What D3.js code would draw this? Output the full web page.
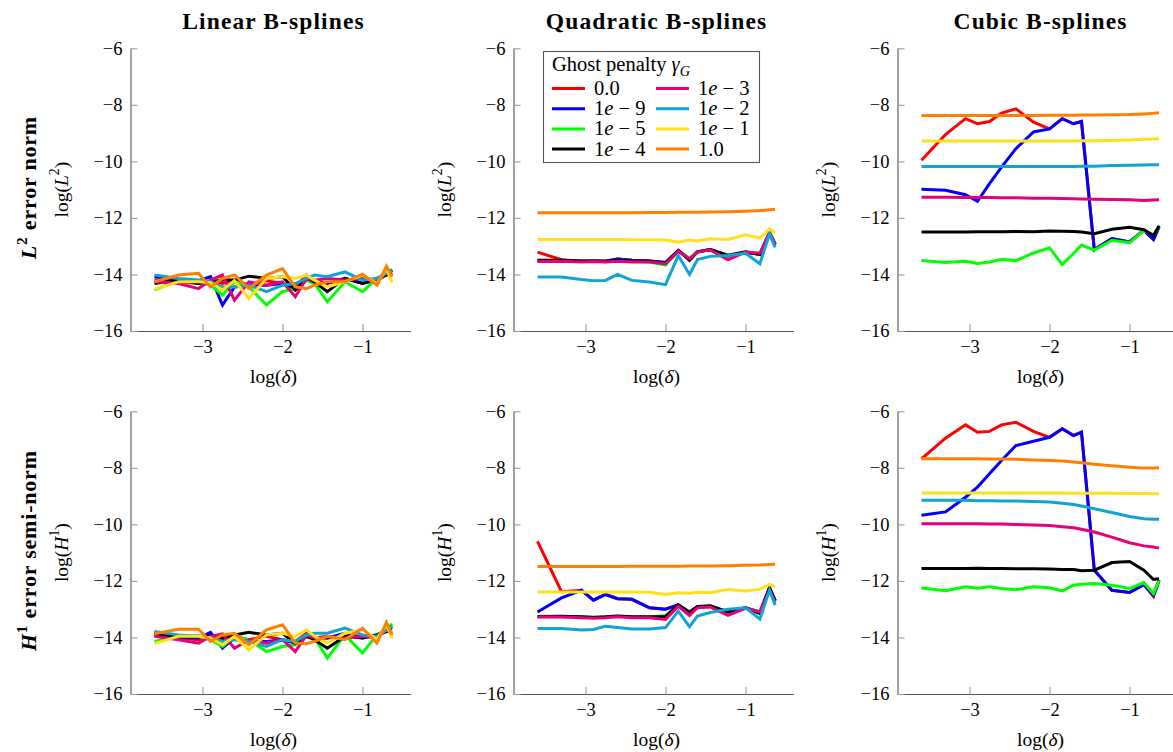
<!DOCTYPE html>
<html><head><meta charset="utf-8">
<script src="https://cdn.jsdelivr.net/npm/d3@7"></script>
<style>body{margin:0;background:#fff} svg text{font-family:"Liberation Serif","Times New Roman",serif;fill:#000}</style>
</head><body><svg id="c" width="1173" height="752"></svg>
<script>
// ---------- data ----------
const xValues = [-3.6,-3.3,-3.05,-2.9,-2.75,-2.6,-2.42,-2.2,-2.0,-1.84,-1.7,-1.6,-1.44,-1.22,-1.0,-0.82,-0.7,-0.63];
const seriesLabels = ["0.0","1e-9","1e-5","1e-4","1e-3","1e-2","1e-1","1.0"];
const seriesColors = ["#ff0000","#0000ff","#00ff00","#000000","#e5007d","#0fa3d6","#ffe11a","#ff8000"];
const xTicks = [-3,-2,-1];
const yTicks = [-16,-14,-12,-10,-8,-6];
const columnTitles = ["Linear B-splines","Quadratic B-splines","Cubic B-splines"];

// rows: 0.0, 1e-9, 1e-5, 1e-4, 1e-3, 1e-2, 1e-1, 1.0
const linearL2 = [
 [-14.20,-14.26,-14.32,-14.22,-14.32,-14.20,-14.38,-14.22,-14.32,-14.44,-14.02,-14.26,-14.29,-14.20,-14.14,-14.20,-14.02,-13.96],
 [-14.08,-14.20,-14.22,-14.08,-15.08,-14.44,-14.38,-14.38,-14.32,-14.55,-14.20,-14.26,-14.32,-14.14,-14.32,-14.20,-13.96,-13.91],
 [-14.55,-14.20,-14.26,-14.38,-14.73,-14.26,-14.44,-15.08,-14.61,-14.50,-14.20,-14.32,-14.97,-14.26,-14.61,-14.14,-13.96,-13.82],
 [-14.32,-14.20,-14.32,-14.26,-14.20,-14.20,-14.06,-14.14,-14.08,-14.55,-14.14,-14.26,-14.61,-14.14,-14.32,-14.14,-14.02,-13.85],
 [-14.26,-14.32,-14.50,-14.20,-14.02,-14.91,-14.26,-14.38,-14.26,-14.79,-14.14,-14.20,-14.14,-14.20,-14.14,-14.26,-13.91,-14.02],
 [-14.02,-14.14,-14.20,-14.26,-14.44,-14.44,-14.38,-14.61,-14.38,-14.32,-14.14,-14.02,-14.08,-13.91,-14.20,-14.14,-13.96,-13.85],
 [-14.53,-14.26,-14.26,-14.29,-14.55,-14.22,-14.85,-14.14,-14.08,-14.14,-14.02,-14.20,-14.44,-14.26,-14.02,-14.32,-13.79,-14.29],
 [-14.26,-14.02,-13.96,-14.44,-14.14,-14.02,-14.50,-14.02,-13.79,-14.44,-14.50,-14.38,-14.26,-14.26,-13.99,-14.38,-13.71,-14.08]
];
const quadraticL2 = [
 [-13.21,-13.48,-13.53,-13.52,-13.53,-13.45,-13.50,-13.52,-13.58,-13.15,-13.45,-13.20,-13.12,-13.35,-13.22,-13.28,-12.55,-12.95],
 [-13.53,-13.52,-13.53,-13.52,-13.53,-13.45,-13.50,-13.52,-13.58,-13.15,-13.45,-13.20,-13.12,-13.35,-13.22,-13.28,-12.55,-12.95],
 [-13.52,-13.52,-13.53,-13.53,-13.55,-13.52,-13.54,-13.56,-13.67,-13.18,-13.42,-13.20,-13.13,-13.35,-13.22,-13.25,-12.50,-12.90],
 [-13.50,-13.50,-13.52,-13.52,-13.53,-13.50,-13.52,-13.53,-13.60,-13.15,-13.50,-13.20,-13.12,-13.32,-13.20,-13.30,-12.55,-12.95],
 [-13.54,-13.53,-13.56,-13.54,-13.56,-13.53,-13.56,-13.56,-13.62,-13.18,-13.45,-13.21,-13.13,-13.48,-13.21,-13.25,-12.51,-12.92],
 [-14.09,-14.09,-14.18,-14.22,-14.21,-14.00,-14.21,-14.27,-14.36,-13.33,-14.00,-13.47,-13.36,-13.33,-13.25,-13.62,-12.56,-13.04],
 [-12.76,-12.76,-12.76,-12.76,-12.76,-12.76,-12.77,-12.77,-12.78,-12.86,-12.78,-12.82,-12.74,-12.76,-12.60,-12.71,-12.39,-12.53],
 [-11.82,-11.82,-11.82,-11.82,-11.82,-11.82,-11.82,-11.81,-11.81,-11.80,-11.80,-11.80,-11.79,-11.78,-11.76,-11.74,-11.71,-11.70]
];
const cubicL2 = [
 [-9.96,-9.05,-8.49,-8.67,-8.59,-8.29,-8.14,-8.61,-8.85,-8.49,-8.67,-8.59,-13.12,-12.73,-12.85,-12.44,-12.76,-12.32],
 [-10.99,-11.02,-11.18,-11.41,-10.79,-10.20,-9.55,-8.96,-8.85,-8.49,-8.67,-8.59,-13.12,-12.73,-12.85,-12.44,-12.76,-12.32],
 [-13.51,-13.58,-13.53,-13.61,-13.56,-13.47,-13.51,-13.24,-13.06,-13.65,-13.26,-12.96,-13.14,-12.79,-12.88,-12.44,-12.61,-12.32],
 [-12.50,-12.50,-12.50,-12.49,-12.49,-12.49,-12.48,-12.49,-12.46,-12.47,-12.48,-12.50,-12.56,-12.40,-12.33,-12.42,-12.62,-12.28],
 [-11.27,-11.27,-11.28,-11.28,-11.28,-11.29,-11.29,-11.30,-11.30,-11.31,-11.32,-11.33,-11.34,-11.35,-11.36,-11.38,-11.37,-11.36],
 [-10.18,-10.18,-10.18,-10.18,-10.18,-10.18,-10.18,-10.18,-10.18,-10.18,-10.18,-10.17,-10.17,-10.15,-10.14,-10.13,-10.12,-10.12],
 [-9.28,-9.28,-9.28,-9.28,-9.28,-9.28,-9.28,-9.28,-9.28,-9.28,-9.28,-9.27,-9.27,-9.26,-9.24,-9.22,-9.21,-9.20],
 [-8.38,-8.38,-8.38,-8.38,-8.38,-8.38,-8.38,-8.38,-8.37,-8.37,-8.37,-8.36,-8.36,-8.35,-8.34,-8.32,-8.30,-8.28]
];
const linearH1 = [
 [-13.94,-14.02,-14.08,-13.96,-14.08,-13.96,-14.08,-13.96,-14.08,-14.14,-13.85,-14.02,-14.02,-13.96,-13.96,-13.91,-13.79,-13.82],
 [-13.82,-13.99,-14.02,-13.82,-14.38,-14.02,-14.14,-14.14,-14.08,-14.20,-13.96,-14.02,-14.02,-13.85,-14.02,-13.91,-13.73,-13.67],
 [-14.14,-13.96,-13.96,-14.08,-14.32,-13.96,-14.08,-14.50,-14.32,-14.26,-13.91,-14.02,-14.73,-13.91,-14.55,-13.91,-13.73,-13.52],
 [-13.91,-13.96,-13.96,-13.96,-14.02,-13.91,-13.82,-13.91,-13.85,-14.22,-13.96,-14.08,-14.38,-13.96,-14.02,-13.91,-13.79,-13.61],
 [-13.96,-14.08,-14.20,-13.96,-13.87,-14.38,-14.08,-14.20,-14.08,-14.50,-13.91,-14.02,-13.96,-14.02,-13.96,-14.02,-13.73,-13.85],
 [-13.79,-13.91,-13.96,-14.02,-14.14,-14.08,-14.14,-14.32,-14.08,-14.14,-13.91,-13.85,-13.85,-13.67,-13.91,-13.96,-13.73,-13.61],
 [-14.22,-13.96,-13.96,-14.02,-14.26,-13.96,-14.44,-13.91,-13.85,-13.96,-13.73,-13.96,-14.20,-13.85,-13.73,-14.06,-13.55,-14.02],
 [-13.87,-13.71,-13.71,-14.14,-13.91,-13.85,-14.26,-13.73,-13.55,-14.20,-14.22,-14.14,-13.96,-14.08,-13.67,-14.20,-13.47,-13.91]
];
const quadraticH1 = [
 [-10.60,-12.38,-12.33,-12.68,-12.48,-12.63,-12.65,-12.95,-13.00,-12.85,-13.12,-12.92,-12.90,-13.10,-12.95,-13.10,-12.25,-12.70],
 [-13.10,-12.60,-12.33,-12.68,-12.48,-12.63,-12.65,-12.95,-13.00,-12.85,-13.12,-12.92,-12.90,-13.10,-12.95,-13.10,-12.25,-12.70],
 [-13.27,-13.26,-13.27,-13.28,-13.27,-13.25,-13.27,-13.28,-13.22,-12.87,-13.15,-12.92,-12.90,-13.12,-12.95,-13.10,-12.30,-12.72],
 [-13.26,-13.25,-13.27,-13.29,-13.27,-13.24,-13.27,-13.27,-13.26,-12.85,-13.10,-12.90,-12.88,-13.10,-12.95,-13.15,-12.25,-12.70],
 [-13.28,-13.28,-13.30,-13.32,-13.30,-13.27,-13.30,-13.30,-13.36,-12.90,-13.22,-12.95,-12.92,-13.22,-12.97,-13.10,-12.35,-12.75],
 [-13.68,-13.68,-13.74,-13.72,-13.60,-13.65,-13.70,-13.70,-13.65,-13.07,-13.62,-13.24,-13.12,-13.00,-12.95,-13.35,-12.32,-12.85],
 [-12.39,-12.39,-12.39,-12.39,-12.39,-12.39,-12.39,-12.40,-12.48,-12.42,-12.44,-12.40,-12.42,-12.30,-12.36,-12.30,-12.12,-12.20],
 [-11.49,-11.49,-11.49,-11.49,-11.49,-11.49,-11.48,-11.48,-11.48,-11.48,-11.47,-11.47,-11.47,-11.46,-11.45,-11.44,-11.42,-11.41]
];
const cubicH1 = [
 [-7.68,-6.95,-6.48,-6.74,-6.71,-6.48,-6.39,-6.71,-6.92,-6.62,-6.86,-6.74,-11.62,-12.33,-12.41,-12.13,-12.55,-11.98],
 [-9.68,-9.56,-9.04,-8.68,-8.21,-7.74,-7.21,-7.06,-6.92,-6.62,-6.86,-6.74,-11.62,-12.33,-12.41,-12.13,-12.51,-11.98],
 [-12.25,-12.35,-12.21,-12.26,-12.21,-12.27,-12.31,-12.21,-12.24,-12.35,-12.15,-12.12,-12.09,-12.15,-12.27,-12.06,-12.45,-11.98],
 [-11.56,-11.56,-11.56,-11.55,-11.56,-11.56,-11.57,-11.57,-11.58,-11.60,-11.60,-11.64,-11.62,-11.35,-11.31,-11.62,-11.95,-11.92],
 [-9.98,-9.98,-9.98,-9.98,-9.99,-9.99,-10.00,-10.02,-10.04,-10.08,-10.12,-10.17,-10.27,-10.45,-10.65,-10.76,-10.80,-10.84],
 [-9.15,-9.15,-9.15,-9.16,-9.16,-9.17,-9.17,-9.19,-9.21,-9.25,-9.30,-9.35,-9.45,-9.58,-9.72,-9.80,-9.82,-9.82],
 [-8.89,-8.89,-8.89,-8.89,-8.89,-8.89,-8.89,-8.89,-8.89,-8.89,-8.90,-8.90,-8.90,-8.90,-8.91,-8.91,-8.92,-8.92],
 [-7.68,-7.68,-7.68,-7.68,-7.69,-7.69,-7.70,-7.72,-7.74,-7.76,-7.79,-7.82,-7.87,-7.93,-7.98,-8.01,-8.01,-8.00]
];

// ---------- layout ----------
const svg = d3.select("#c");
svg.append("rect").attr("width",1173).attr("height",752).attr("fill","#fff");
const colLeft = [130.5, 513.5, 897.5];
const rowTop = [48.3, 411.3];
const plotW = 280, plotH = 282.7;
const panels = [
  {r:0,c:0,data:linearL2,ylab:"L",sup:"2"},
  {r:0,c:1,data:quadraticL2,ylab:"L",sup:"2"},
  {r:0,c:2,data:cubicL2,ylab:"L",sup:"2"},
  {r:1,c:0,data:linearH1,ylab:"H",sup:"1"},
  {r:1,c:1,data:quadraticH1,ylab:"H",sup:"1"},
  {r:1,c:2,data:cubicH1,ylab:"H",sup:"1"}
];

function rich(sel, parts, size){
  let shift = 0;
  parts.forEach(p=>{
    const [t, st] = p;
    const ts = sel.append("tspan").text(t);
    let target = 0;
    if (st && st.includes("sup")) { target = -0.42*size; ts.attr("font-size", size*0.7); }
    if (st && st.includes("sub")) { target = 0.22*size; ts.attr("font-size", size*0.7); }
    if (st && st.includes("i")) ts.attr("font-style","italic");
    if (target !== shift) { ts.attr("dy", target - shift); shift = target; }
  });
}

panels.forEach(p=>{
  const g = svg.append("g").attr("transform",`translate(${colLeft[p.c]},${rowTop[p.r]})`);
  const x = d3.scaleLinear().domain([-3.9,-0.4]).range([0,plotW]);
  const y = d3.scaleLinear().domain([-16,-6]).range([plotH,0]);

  const xa = g.append("g").attr("transform",`translate(0,${plotH})`)
    .call(d3.axisBottom(x).tickValues(xTicks).tickFormat(d3.format("d")).tickSize(-7).tickSizeOuter(0).tickPadding(9));
  const ya = g.append("g")
    .call(d3.axisLeft(y).tickValues(yTicks).tickFormat(d3.format("d")).tickSize(-7).tickSizeOuter(0).tickPadding(8));
  [xa,ya].forEach(a=>{
    a.attr("font-family",null);
    a.select(".domain").attr("stroke","#555").attr("stroke-width",1.1);
    a.selectAll(".tick line").attr("stroke","#9a9a9a").attr("stroke-width",1.1);
    a.selectAll(".tick text").attr("font-size",18.5).attr("fill","#000");
  });

  const line = d3.line().x((d,i)=>x(xValues[i])).y(d=>y(d));
  p.data.forEach((vals,k)=>{
    g.append("path").datum(vals).attr("d",line)
      .attr("fill","none").attr("stroke",seriesColors[k]).attr("stroke-width",3)
      .attr("stroke-linejoin","miter");
  });

  const xl = g.append("text").attr("x",plotW/2+3).attr("y",plotH+52)
    .attr("text-anchor","middle").attr("font-size",19.5);
  rich(xl, [["log("],["δ","i"],[")"]], 19.5);
  const yl = g.append("text").attr("transform",`translate(${-63},${plotH/2}) rotate(-90)`)
    .attr("text-anchor","middle").attr("font-size",19.5);
  rich(yl, [["log("],[p.ylab,"i"],[p.sup,"sup"],[")",""]], 19.5);
});

columnTitles.forEach((t,c)=>{
  svg.append("text").attr("x",colLeft[c]+plotW/2+3).attr("y",29)
    .attr("text-anchor","middle").attr("font-size",23.5).attr("font-weight","bold")
    .attr("letter-spacing",1.1).text(t);
});
const rowTitles = [[["L","i"],["2","sup"],[" error norm",""]],[["H","i"],["1","sup"],[" error semi-norm",""]]];
rowTitles.forEach((parts,r)=>{
  const t = svg.append("text").attr("transform",`translate(36,${rowTop[r]+plotH/2 - 2}) rotate(-90)`)
    .attr("text-anchor","middle").attr("font-size",22).attr("font-weight","bold").attr("letter-spacing",0.8);
  rich(t, parts, 22);
});

// legend
const lg = svg.append("g");
lg.append("rect").attr("x",543.5).attr("y",51.5).attr("width",216).attr("height",111)
  .attr("fill","#fff").attr("stroke","#555").attr("stroke-width",1.1);
const lt = lg.append("text").attr("x",552).attr("y",71).attr("font-size",20.5);
rich(lt, [["Ghost penalty "],["γ","i"],["G","i sub"]], 20.5);
seriesLabels.forEach((s,k)=>{
  const col = Math.floor(k/4), row = k%4;
  const lx = col===0 ? 552 : 656;
  const ly = 88.5 + row*20.2;
  lg.append("line").attr("x1",lx).attr("x2",lx+33).attr("y1",ly).attr("y2",ly)
    .attr("stroke",seriesColors[k]).attr("stroke-width",3);
  const t = lg.append("text").attr("x",lx+42).attr("y",ly+6.5).attr("font-size",20.5);
  if (s.includes("e")) {
    const [m,e] = s.split("e");
    rich(t, [[m],["e","i"],[" − " + e.replace("-","")]], 20.5);
  } else t.text(s);
});
</script></body></html>
